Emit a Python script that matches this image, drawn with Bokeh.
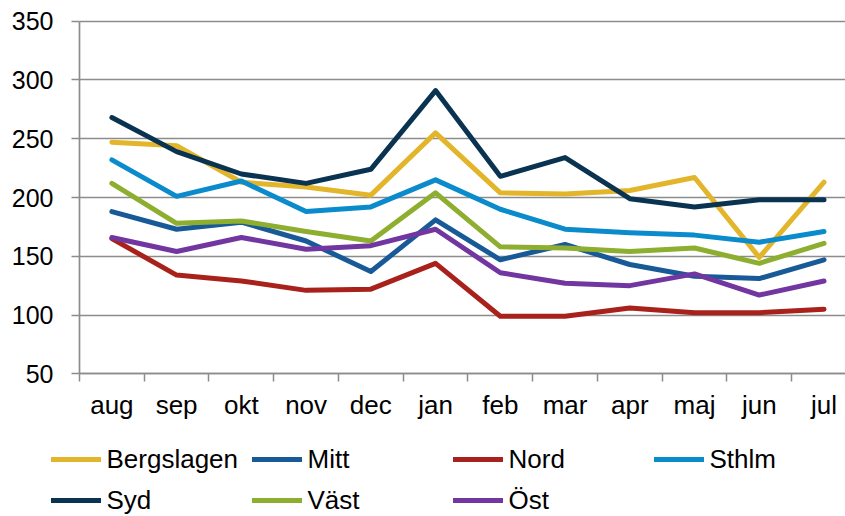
from bokeh.plotting import figure
from bokeh.models import Range1d, FixedTicker, Legend, LegendItem
from bokeh.embed import file_html
from bokeh.resources import INLINE

months = ["aug", "sep", "okt", "nov", "dec", "jan", "feb", "mar", "apr", "maj", "jun", "jul"]
y_ticks = [50, 100, 150, 200, 250, 300, 350]

bergslagen = [247, 244, 213, 209, 202, 255, 204, 203, 206, 217, 149, 213]
mitt = [188, 173, 179, 163, 137, 181, 147, 160, 143, 133, 131, 147]
nord = [165, 134, 129, 121, 122, 144, 99, 99, 106, 102, 102, 105]
sthlm = [232, 201, 214, 188, 192, 215, 190, 173, 170, 168, 162, 171]
syd = [268, 239, 220, 212, 224, 291, 218, 234, 199, 192, 198, 198]
vast = [212, 178, 180, 171, 163, 204, 158, 157, 154, 157, 144, 161]
ost = [166, 154, 166, 156, 159, 173, 136, 127, 125, 135, 117, 129]

series = [
    ("Bergslagen", bergslagen, "#E3B52A"),
    ("Mitt", mitt, "#175A97"),
    ("Nord", nord, "#A8221B"),
    ("Sthlm", sthlm, "#0A8BCB"),
    ("Syd", syd, "#0A3352"),
    ("Väst", vast, "#8DAE2E"),
    ("Öst", ost, "#7236A0"),
]

FONT = "Liberation Sans"
GRID = "#8C8C8C"

W, H = 845, 516
PLOT_L, PLOT_T, PLOT_B = 79.0, 20.7, 373.3   # pixel box of the value area
CAT_W = 64.74                                 # pixels per month
x0, x1 = -0.5, -0.5 + (W - PLOT_L) / CAT_W
y0, y1 = y_ticks[0], y_ticks[-1]
k = (PLOT_B - PLOT_T) / (y1 - y0)

x = list(range(len(months)))

p = figure(width=W, height=H, output_backend="svg", toolbar_location=None,
           x_range=Range1d(x0 - PLOT_L / CAT_W, x1),
           y_range=Range1d(y0 - (H - PLOT_B) / k, y1 + PLOT_T / k),
           min_border_left=0, min_border_right=0, min_border_top=0,
           min_border_bottom=0)
p.outline_line_color = None
p.background_fill_color = "white"
p.border_fill_color = "white"

items = []
for name, vals, col in series:
    r = p.line(x, vals, line_color=col, line_width=5, line_join="round", line_cap="round")
    items.append(LegendItem(label=name, renderers=[r]))

# x axis, fixed at y = 50
xa = p.xaxis[0]
xa.fixed_location = y0
xa.bounds = (x0, x1)
xa.ticker = FixedTicker(ticks=x, minor_ticks=[i - 0.5 for i in range(len(months) + 1)])
xa.major_label_overrides = {i: m for i, m in enumerate(months)}
xa.major_tick_line_color = None
xa.major_tick_out = 0
xa.major_tick_in = 0
xa.minor_tick_line_color = GRID
xa.minor_tick_line_width = 1.5
xa.minor_tick_out = 8
xa.minor_tick_in = 0
xa.major_label_standoff = 8
xa.axis_line_color = GRID
xa.axis_line_width = 1.7
xa.major_label_text_font = FONT
xa.major_label_text_font_size = "26px"
xa.major_label_text_color = "#000000"

# y axis, fixed at the left edge of the month slots
ya = p.yaxis[0]
ya.fixed_location = x0
ya.bounds = (y0, y1)
ya.ticker = FixedTicker(ticks=y_ticks)
ya.major_tick_line_color = GRID
ya.major_tick_line_width = 1.7
ya.major_tick_out = 8
ya.major_tick_in = 0
ya.minor_tick_line_color = None
ya.axis_line_color = GRID
ya.axis_line_width = 1.7
ya.major_label_standoff = 18
ya.major_label_text_font = FONT
ya.major_label_text_font_size = "25px"
ya.major_label_text_color = "#000000"

p.xgrid.visible = False
yg = p.ygrid[0]
yg.ticker = FixedTicker(ticks=y_ticks)
yg.grid_line_color = GRID
yg.grid_line_width = 1.7
yg.bounds = (y0, y1)
yg.cross_bounds = (x0, x1)

legend = Legend(items=items, location=(50.5, -2), orientation="horizontal", ncols=4,
                glyph_width=50, glyph_height=20, label_standoff=6, label_width=140,
                label_height=36, spacing=5, padding=0, margin=0,
                border_line_color=None, background_fill_alpha=0,
                label_text_font=FONT, label_text_font_size="26px",
                label_text_color="#000000")
p.add_layout(legend, "center")

open("out.html", "w").write(file_html(p, INLINE))
